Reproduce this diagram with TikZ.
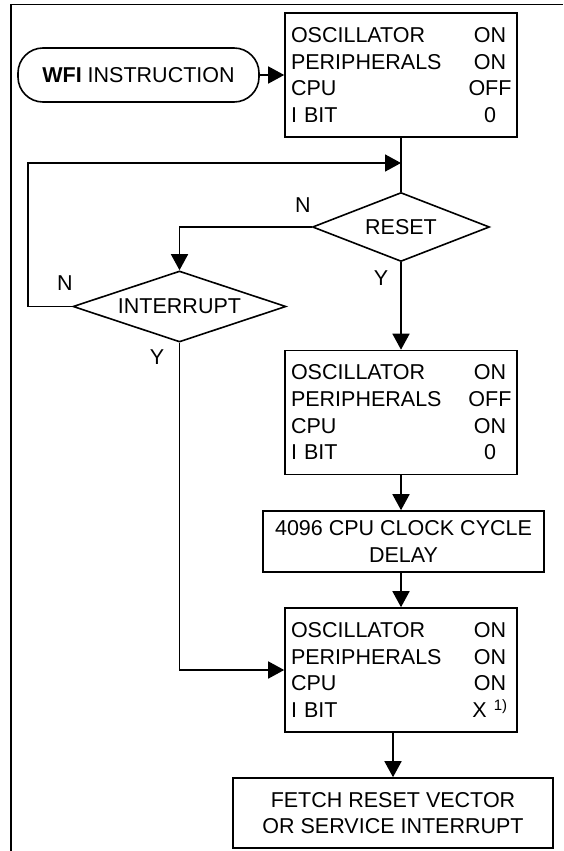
\documentclass[tikz,border=0pt]{standalone}
\usepackage{fontspec}
\setmainfont{Liberation Sans}
\usetikzlibrary{shapes.geometric,arrows.meta}

\newcommand{\stateline}[2]{\makebox[178pt][l]{#1}\makebox[42pt]{#2}}

\begin{document}
\begin{tikzpicture}[x=1pt,y=-1pt,
    line width=1.6pt,
    every node/.style={font=\fontsize{21.5}{26.7}\selectfont},
    flow/.style={-{Triangle[length=16pt,width=17pt]}},
    statebox/.style={draw, rectangle, minimum width=232pt, minimum height=124pt,
        text width=220pt, inner xsep=6pt, inner ysep=0pt, align=left},
    actbox/.style={draw, rectangle, align=center, inner sep=0pt},
    decision/.style={draw, diamond, inner sep=0pt},
    terminal/.style={draw, rectangle, rounded corners=25pt, inner sep=0pt}]

    % Fix page size
    \useasboundingbox (0,0) rectangle (563,851);

    % Draw outer frame
    \draw (11,851) -- (11,4.5) -- (563,4.5);

    % Draw WFI start and first state box
    \node[terminal, minimum width=241pt, minimum height=54pt] at (138.5,75) (wfi) {\textbf{WFI} INSTRUCTION};
    \node[statebox] at (401,75) (stop) {\stateline{OSCILLATOR}{ON}\\
        \stateline{PERIPHERALS}{ON}\\
        \stateline{CPU}{OFF}\\
        \stateline{I BIT}{0}};
    \draw[flow] (wfi) -- (stop);

    % Draw decisions
    \node[decision, aspect=2.5, minimum width=177pt, minimum height=69pt] at (401,227) (reset) {RESET};
    \node[decision, aspect=3, minimum width=213pt, minimum height=71pt] at (179.5,306.5) (interrupt) {INTERRUPT};

    % Draw wake-up state box and delay
    \node[statebox] at (401,412.5) (wake) {\stateline{OSCILLATOR}{ON}\\
        \stateline{PERIPHERALS}{OFF}\\
        \stateline{CPU}{ON}\\
        \stateline{I BIT}{0}};
    \node[actbox, minimum width=281pt, minimum height=61pt] at (403.5,541.5) (delay) {4096 CPU CLOCK CYCLE\\DELAY};

    % Draw run state box and final step
    \node[statebox] at (401,670) (run) {\stateline{OSCILLATOR}{ON}\\
        \stateline{PERIPHERALS}{ON}\\
        \stateline{CPU}{ON}\\
        \stateline{I BIT}{X \textsuperscript{1)}}};
    \node[actbox, minimum width=320pt, minimum height=70pt] at (393,813) (fetch) {FETCH RESET VECTOR\\OR SERVICE INTERRUPT};

    % Draw connections
    \coordinate (loopcorner) at (28,163);
    \draw (stop.south) -- (reset.north);
    \draw[flow] (interrupt.west) -| (loopcorner) -- (loopcorner -| stop.south);
    \draw[flow] (reset.west) -| (interrupt.north);
    \draw[flow] (reset.south) -- (wake.north);
    \draw[flow] (interrupt.south) |- (run.west);
    \draw[flow] (wake.south) -- (wake.south |- delay.north);
    \draw[flow] (delay.south -| run.north) -- (run.north);
    \draw[flow] (fetch.north |- run.south) -- (fetch.north);

    % Draw branch labels
    \node at (303,205) (resetno) {N};
    \node at (381,278) (resetyes) {Y};
    \node at (65,283) (intno) {N};
    \node at (157,357) (intyes) {Y};
\end{tikzpicture}
\end{document}
